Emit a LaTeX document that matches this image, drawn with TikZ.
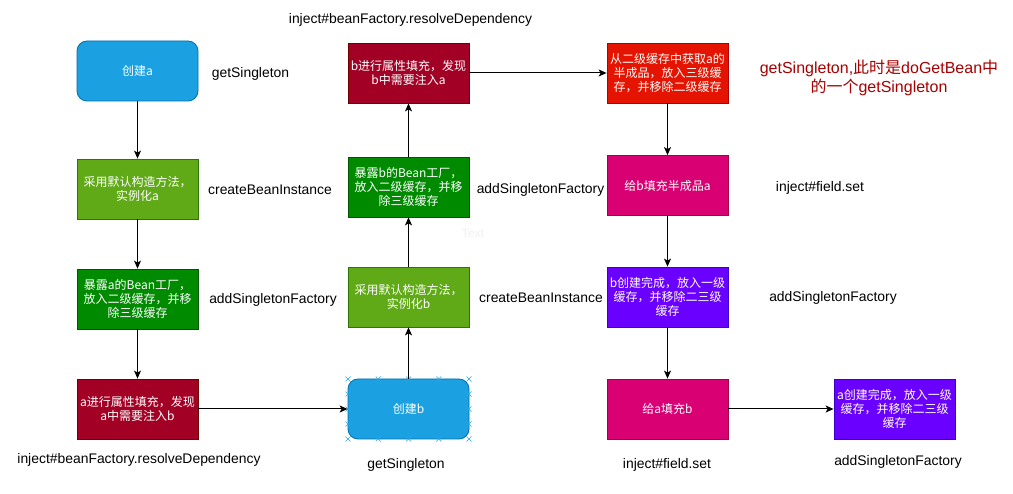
\documentclass[tikz,border=0pt]{standalone}
\usepackage{fontspec}
\setmainfont{Liberation Sans}
\newfontfamily\cjk{Noto Sans CJK SC}
\usetikzlibrary{arrows.meta}
\definecolor{cblue}{HTML}{1BA1E2}\definecolor{cbluel}{HTML}{006EAF}
\definecolor{cgreen}{HTML}{60A917}\definecolor{cgreenl}{HTML}{2D7600}
\definecolor{cdgreen}{HTML}{008A00}\definecolor{cdgreenl}{HTML}{005700}
\definecolor{cdred}{HTML}{A20025}\definecolor{cdredl}{HTML}{6F0000}
\definecolor{cred}{HTML}{E51400}\definecolor{credl}{HTML}{B20000}
\definecolor{cmag}{HTML}{D80073}\definecolor{cmagl}{HTML}{A50040}
\definecolor{cvio}{HTML}{6A00FF}\definecolor{cviol}{HTML}{3700CC}
\definecolor{notered}{HTML}{A80000}
\definecolor{selblue}{HTML}{29A8E6}
\definecolor{faint}{HTML}{EEF0F5}
\begin{document}
\begin{tikzpicture}[x=1pt,y=-1pt,
  box/.style={minimum width=121pt,minimum height=60pt,inner sep=1pt,align=center,text=white,font=\cjk\fontsize{12}{14}\selectfont,draw,line width=0.8pt},
  rbox/.style={box,rounded corners=10pt},
  lbl/.style={font=\fontsize{13.9}{16}\selectfont,inner sep=0pt,align=center},
  arr/.style={-{Stealth[length=8pt,width=7pt,inset=2pt]},line width=1pt,black},
  selmark/.style={selblue,line width=0.7pt}]
\useasboundingbox[fill=white] (0,0) rectangle (1013,494);

% column 1
\node[rbox,fill=cblue,draw=cbluel] (a1) at (137.5,71) {创建a};
\node[box,fill=cgreen,draw=cgreenl] (a2) at (137.5,189) {采用默认构造方法，\\实例化a};
\node[box,fill=cdgreen,draw=cdgreenl] (a3) at (137.5,299) {暴露a的Bean工厂，\\放入二级缓存，并移\\除三级缓存};
\node[box,fill=cdred,draw=cdredl] (a4) at (137.5,409) {a进行属性填充，发现\\a中需要注入b};

% column 2
\node[box,fill=cdred,draw=cdredl] (b1) at (408.5,73) {b进行属性填充，发现\\b中需要注入a};
\node[box,fill=cdgreen,draw=cdgreenl] (b2) at (408.5,187) {暴露b的Bean工厂，\\放入二级缓存，并移\\除三级缓存};
\node[box,fill=cgreen,draw=cgreenl] (b3) at (408.5,297) {采用默认构造方法，\\实例化b};
\node[rbox,fill=cblue,draw=cbluel] (b4) at (408.5,409) {创建b};

% column 3
\node[box,fill=cred,draw=credl] (c1) at (667.5,73) {从二级缓存中获取a的\\半成品，放入三级缓\\存，并移除二级缓存};
\node[box,fill=cmag,draw=cmagl] (c2) at (667.5,185.5) {给b填充半成品a};
\node[box,fill=cvio,draw=cviol] (c3) at (667.5,297) {b创建完成，放入一级\\缓存，并移除二三级\\缓存};
\node[box,fill=cmag,draw=cmagl] (c4) at (667.5,409) {给a填充b};

% column 4
\node[box,fill=cvio,draw=cviol] (d4) at (894.5,409) {a创建完成，放入一级\\缓存，并移除二三级\\缓存};

% selection markers around b4
\foreach \px in {348,378.25,408.5,438.75,469}{
  \foreach \py in {379,439}{
    \draw[selmark] (\px-2.5,\py-2.5) -- (\px+2.5,\py+2.5) (\px-2.5,\py+2.5) -- (\px+2.5,\py-2.5);}}
\foreach \py in {394,409,424}{
  \foreach \px in {348,469}{
    \draw[selmark] (\px-2.5,\py-2.5) -- (\px+2.5,\py+2.5) (\px-2.5,\py+2.5) -- (\px+2.5,\py-2.5);}}

% labels
\node[lbl] (l1) at (250.5,74) {getSingleton};
\node[lbl] (l2) at (270,190) {createBeanInstance};
\node[lbl] (l3) at (273,300) {addSingletonFactory};
\node[lbl] (l4) at (139,460) {inject\#beanFactory.resolveDependency};
\node[lbl] (l5) at (410.5,20) {inject\#beanFactory.resolveDependency};
\node[lbl] (l6) at (540.5,190) {addSingletonFactory};
\node[lbl] (l7) at (541,298) {createBeanInstance};
\node[lbl] (l8) at (406,465) {getSingleton};
\node[lbl,text=notered,font=\fontsize{16}{19}\selectfont] (l9) at (879,77.5) {getSingleton,{\cjk 此时是}doGetBean{\cjk 中}\\{\cjk 的一个}getSingleton};
\node[lbl] (l10) at (820,188) {inject\#field.set};
\node[lbl] (l11) at (833,298) {addSingletonFactory};
\node[lbl] (l12) at (667,465) {inject\#field.set};
\node[lbl] (l13) at (898,462) {addSingletonFactory};
\node[lbl,text=faint,font=\fontsize{12}{14}\selectfont] (l14) at (473,233) {Text};

% connectors
\draw[arr] (a1) -- (a2);
\draw[arr] (a2) -- (a3);
\draw[arr] (a3) -- (a4);
\draw[arr] (a4) -- (b4);
\draw[arr] (b4) -- (b3);
\draw[arr] (b3) -- (b2);
\draw[arr] (b2) -- (b1);
\draw[arr] (b1) -- (c1);
\draw[arr] (c1) -- (c2);
\draw[arr] (c2) -- (c3);
\draw[arr] (c3) -- (c4);
\draw[arr] (c4) -- (d4);
\end{tikzpicture}
\end{document}
